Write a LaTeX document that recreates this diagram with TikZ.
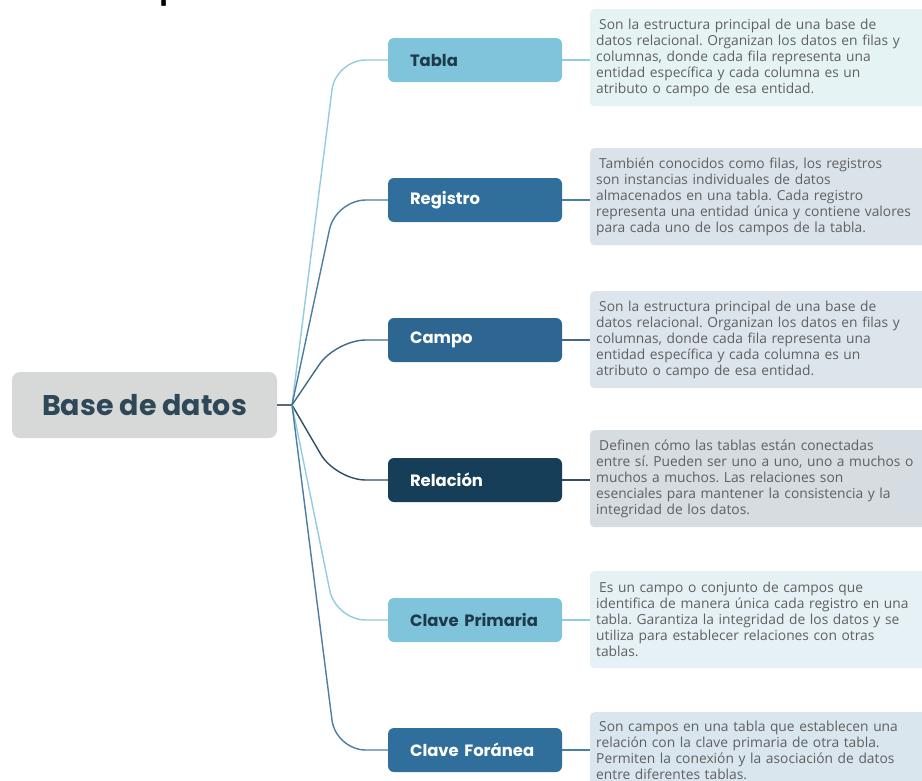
\documentclass[tikz,border=0pt]{standalone}
\usepackage{fontspec}
\setmainfont{Open Sans}
\newfontfamily\popfont{Poppins}
\newfontfamily\ttlfont{Liberation Sans}
\usetikzlibrary{calc}
\definecolor{rootfill}{HTML}{D6D9D7}
\definecolor{roottext}{HTML}{2F4858}
\definecolor{lightbox}{HTML}{7FC4DA}
\definecolor{midbox}{HTML}{306F9C}
\definecolor{campobox}{HTML}{2D6690}
\definecolor{darkbox}{HTML}{163E58}
\definecolor{darktext}{HTML}{1E3A4A}
\definecolor{lnlight}{HTML}{93CCE0}
\definecolor{lnmid}{HTML}{4A7EA3}
\definecolor{lncampo}{HTML}{3F6A88}
\definecolor{lndark}{HTML}{2F4F66}
\definecolor{lnroot}{HTML}{5A6A72}
\definecolor{descgray}{HTML}{606060}
\definecolor{dA}{HTML}{E6F3F5}
\definecolor{dB}{HTML}{DBE3EA}
\definecolor{dC}{HTML}{DDE5EC}
\definecolor{dD}{HTML}{D5DCE2}
\definecolor{dE}{HTML}{E5F1F5}
\definecolor{dF}{HTML}{D9E6EE}
\frenchspacing
\begin{document}
\begin{tikzpicture}[x=1pt,y=-1pt,
  rootbox/.style={fill=rootfill, rounded corners=8pt, minimum width=265pt, minimum height=66pt,
    text=roottext, font=\popfont\bfseries\fontsize{28.5}{31}\selectfont},
  childbox/.style={rounded corners=6pt, minimum height=44pt, text width=130pt, inner xsep=22pt,
    align=left, font=\popfont\bfseries\fontsize{16.4}{19}\selectfont},
  descbox/.style={anchor=north west, rounded corners=4pt, text width=324pt, inner xsep=6pt,
    inner ysep=9pt, minimum height=97pt, align=left, text=descgray,
    font=\fontsize{13.8}{16}\selectfont},
  link/.style={line width=1.4pt, rounded corners=30pt},
  stub/.style={line width=1.2pt}
]
\useasboundingbox (0,0) rectangle (922,780);
\clip (0,0) rectangle (922,780);
\fill[white] (0,0) rectangle (922,780);

\node[anchor=base east, font=\ttlfont\bfseries\fontsize{33}{33}\selectfont] (title) at (590,-0.8) {Lista de los Componentes de Base de datos};

\node[rootbox] (root) at (144.5,405) {Base de datos};
\coordinate (hub) at (292,405);

\node[childbox, fill=lightbox, text=darktext] (tabla) at (475,60) {Tabla};
\node[childbox, fill=midbox, text=white] (registro) at (475,200) {Registro};
\node[childbox, fill=campobox, text=white] (campo) at (475,340) {Campo};
\node[childbox, fill=darkbox, text=white] (relacion) at (475,480) {Relación};
\node[childbox, fill=lightbox, text=darktext] (primaria) at (475,620) {Clave Primaria};
\node[childbox, fill=midbox, text=white] (foranea) at (475,750) {Clave Foránea};

\draw[stub, lnroot] (root.east) -- (hub);
\draw[link, lnlight] (hub) -- ($(tabla.west)+(-52,0)$) -- (tabla.west);
\draw[link, lnmid] (hub) -- ($(registro.west)+(-52,0)$) -- (registro.west);
\draw[link, lncampo] (hub) -- ($(campo.west)+(-52,0)$) -- (campo.west);
\draw[link, lndark] (hub) -- ($(relacion.west)+(-52,0)$) -- (relacion.west);
\draw[link, lnlight] (hub) -- ($(primaria.west)+(-52,0)$) -- (primaria.west);
\draw[link, lnmid] (hub) -- ($(foranea.west)+(-52,0)$) -- (foranea.west);

\node[descbox, fill=dA] (d1) at (590,9) {\hspace{3pt}Son la estructura principal de una base de\\datos relacional. Organizan los datos en filas y\\columnas, donde cada fila representa una\\entidad específica y cada columna es un\\atributo o campo de esa entidad.};
\node[descbox, fill=dB] (d2) at (590,148) {\hspace{3pt}También conocidos como filas, los registros\\son instancias individuales de datos\\almacenados en una tabla. Cada registro\\representa una entidad única y contiene valores\\para cada uno de los campos de la tabla.};
\node[descbox, fill=dC] (d3) at (590,291) {\hspace{3pt}Son la estructura principal de una base de\\datos relacional. Organizan los datos en filas y\\columnas, donde cada fila representa una\\entidad específica y cada columna es un\\atributo o campo de esa entidad.};
\node[descbox, fill=dD] (d4) at (590,430) {\hspace{3pt}Definen cómo las tablas están conectadas\\entre sí. Pueden ser uno a uno, uno a muchos o\\muchos a muchos. Las relaciones son\\esenciales para mantener la consistencia y la\\integridad de los datos.};
\node[descbox, fill=dE] (d5) at (590,571) {\hspace{3pt}Es un campo o conjunto de campos que\\identifica de manera única cada registro en una\\tabla. Garantiza la integridad de los datos y se\\utiliza para establecer relaciones con otras\\tablas.};
\node[descbox, fill=dF] (d6) at (590,712) {\hspace{3pt}Son campos en una tabla que establecen una\\relación con la clave primaria de otra tabla.\\Permiten la conexión y la asociación de datos\\entre diferentes tablas.\\\strut};

\draw[stub, lnlight] (tabla.east) -- (tabla.east -| d1.west);
\draw[stub, lnmid] (registro.east) -- (registro.east -| d2.west);
\draw[stub, lncampo] (campo.east) -- (campo.east -| d3.west);
\draw[stub, lndark] (relacion.east) -- (relacion.east -| d4.west);
\draw[stub, lnlight] (primaria.east) -- (primaria.east -| d5.west);
\draw[stub, lnmid] (foranea.east) -- (foranea.east -| d6.west);
\end{tikzpicture}
\end{document}
